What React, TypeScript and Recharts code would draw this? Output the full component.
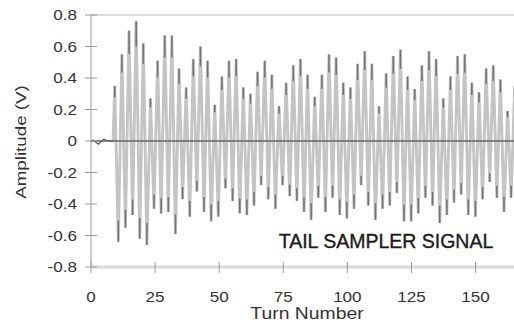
import { ComposedChart, Line, Scatter, XAxis, YAxis, ReferenceLine } from "recharts";

// tick values
const TURN_TICKS = [0, 25, 50, 75, 100, 125, 150];
const AMP_TICKS = [-0.8, -0.6, -0.4, -0.2, 0, 0.2, 0.4, 0.6, 0.8];

// quiet part before the beam arrives
const PRE_TURN = [0, 1, 2, 3, 4, 5, 6, 7, 8, 8.6];
const PRE_AMP = [0, 0.005, -0.01, -0.02, 0, 0.01, 0.005, 0, 0, 0];

// peak / trough amplitudes of the sampled signal, read left to right
const POS_PEAKS = [
  0.35, 0.55, 0.7, 0.76, 0.62, 0.27, 0.51, 0.67, 0.67, 0.46, 0.34, 0.52, 0.6, 0.51, 0.23,
  0.41, 0.51, 0.52, 0.34, 0.3, 0.44, 0.51, 0.42, 0.22, 0.37, 0.48, 0.52, 0.42, 0.28, 0.42,
  0.55, 0.53, 0.37, 0.34, 0.49, 0.57, 0.49, 0.22, 0.43, 0.54, 0.58, 0.41, 0.33, 0.48, 0.57,
  0.52, 0.27, 0.41, 0.54, 0.55, 0.37, 0.31, 0.46, 0.48, 0.39, 0.19, 0.35,
];
const NEG_PEAKS = [
  -0.64, -0.55, -0.47, -0.62, -0.66, -0.43, -0.46, -0.45, -0.59, -0.37, -0.48, -0.32, -0.45, -0.51,
  -0.48, -0.3, -0.38, -0.46, -0.47, -0.41, -0.28, -0.37, -0.43, -0.28, -0.35, -0.38, -0.45, -0.5, -0.36,
  -0.45, -0.36, -0.47, -0.49, -0.43, -0.28, -0.41, -0.5, -0.43, -0.41, -0.33, -0.51, -0.51, -0.46, -0.36,
  -0.41, -0.52, -0.47, -0.39, -0.34, -0.47, -0.48, -0.37, -0.26, -0.36, -0.45, -0.36,
];

const SAMPLE_START = 9.26; // turn of first peak
const HALF_STEP = 1.393; // turns from a peak to the next trough

const FONT = "'Liberation Sans', Arial, sans-serif";

type Row = { turn: number; pre?: number; amp?: number };

const samples: Row[] = [];
POS_PEAKS.forEach((p, i) => {
  samples.push({ turn: SAMPLE_START + 2 * i * HALF_STEP, amp: p });
  if (i < NEG_PEAKS.length) {
    samples.push({ turn: SAMPLE_START + (2 * i + 1) * HALF_STEP, amp: NEG_PEAKS[i] });
  }
});

const rows: Row[] = [
  ...PRE_TURN.map((t, i) => ({
    turn: t,
    pre: PRE_AMP[i],
    amp: i === PRE_TURN.length - 1 ? PRE_AMP[i] : undefined,
  })),
  ...samples,
];

const YTick = ({ y, payload }: any) => (
  <g>
    <line x1={85} x2={97} y1={y} y2={y} stroke="#9a9a9a" />
    <text
      transform={`translate(77,${y + 5}) scale(1.22,1)`}
      textAnchor="end"
      fontSize={14}
      fontFamily={FONT}
      fill="#333"
    >
      {payload.value === 0 ? "0" : payload.value.toFixed(1)}
    </text>
  </g>
);

const XTick = ({ x, payload }: any) => (
  <g>
    <line x1={x} x2={x} y1={262} y2={273} stroke="#9a9a9a" />
    <text
      transform={`translate(${x},302) scale(1.22,1)`}
      textAnchor="middle"
      fontSize={14}
      fontFamily={FONT}
      fill="#333"
    >
      {payload.value}
    </text>
  </g>
);

const Tip = ({ cx, cy, payload }: any) => {
  const dir = payload.amp > 0 ? 1 : -1;
  const len = Math.abs(payload.amp) * 33;
  return <line x1={cx} x2={cx} y1={cy} y2={cy + dir * len} stroke="#747474" strokeWidth={1.6} />;
};

export default function App() {
  return (
    <div style={{ position: "relative", width: 514, height: 325, background: "#fff" }}>
      <style>{`body{margin:0}`}</style>
      <ComposedChart
        width={514}
        height={325}
        data={rows}
        margin={{ top: 15, right: 0, bottom: 0, left: 0 }}
      >
        <XAxis
          dataKey="turn"
          type="number"
          domain={[0, 165]}
          ticks={TURN_TICKS}
          allowDataOverflow
          height={58}
          axisLine={{ stroke: "#d9d9d9", strokeWidth: 3 }}
          tickLine={false}
          tick={<XTick />}
        />
        <YAxis
          type="number"
          domain={[-0.8, 0.8]}
          ticks={AMP_TICKS}
          width={91}
          axisLine={{ stroke: "#9a9a9a" }}
          tickLine={false}
          tick={<YTick />}
        />
        <ReferenceLine y={0.8} stroke="#dcdcdc" strokeWidth={2} />
        <Line
          dataKey="amp"
          type="linear"
          stroke="#c4c4c4"
          strokeWidth={2.9}
          dot={false}
          isAnimationActive={false}
        />
        <Scatter data={samples} dataKey="amp" shape={<Tip />} isAnimationActive={false} />
        <Line
          dataKey="pre"
          type="linear"
          stroke="#555"
          strokeWidth={1.2}
          dot={false}
          isAnimationActive={false}
        />
        <ReferenceLine y={0} stroke="#666" strokeWidth={1.3} />
      </ComposedChart>
      <svg
        width={514}
        height={325}
        style={{ position: "absolute", left: 0, top: 0, pointerEvents: "none" }}
      >
        <text
          x={386}
          y={248}
          textAnchor="middle"
          fontSize={19.5}
          fontFamily={FONT}
          fill="#1a1a1a"
          stroke="#1a1a1a"
          strokeWidth={0.35}
        >
          TAIL SAMPLER SIGNAL
        </text>
        <text
          transform="translate(307,319) scale(1.21,1)"
          textAnchor="middle"
          fontSize={16}
          fontFamily={FONT}
          fill="#333"
        >
          Turn Number
        </text>
        <text
          transform="translate(21,142) rotate(-90) scale(1.25,1)"
          textAnchor="middle"
          dy="0.35em"
          fontSize={15}
          fontFamily={FONT}
          fill="#333"
        >
          Amplitude (V)
        </text>
      </svg>
    </div>
  );
}
